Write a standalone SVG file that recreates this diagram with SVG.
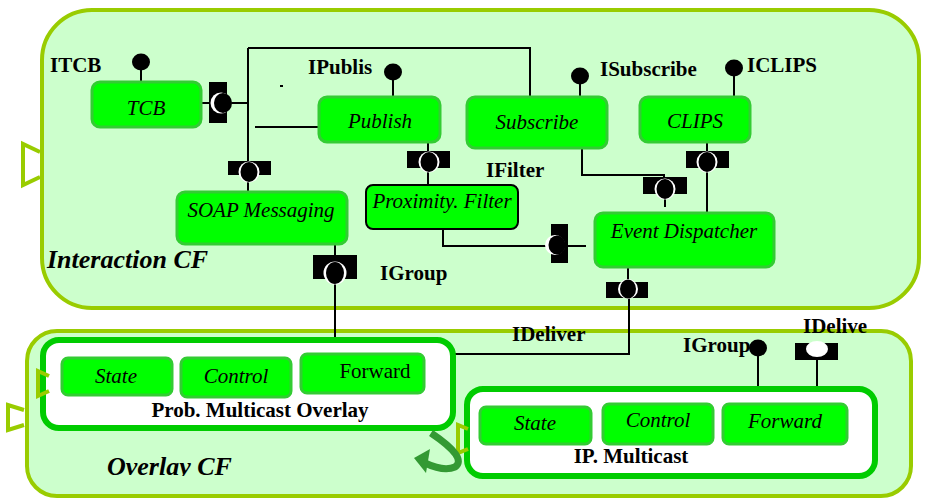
<svg xmlns="http://www.w3.org/2000/svg" width="926" height="499" viewBox="0 0 926 499">
  <style>
    .cf { fill: #ccffcc; stroke: #99cc00; stroke-width: 4; }
    .rcp { fill: none; stroke: #99cc00; stroke-width: 4; stroke-linejoin: miter; }
    .comp { fill: #00ff00; stroke: #33cc33; stroke-width: 3; }
    .host { fill: #ffffff; stroke: #00cc00; stroke-width: 6; }
    .wire { fill: none; stroke: #000000; stroke-width: 2; }
    .nlab { font-family: "Liberation Serif", "Times New Roman", serif; font-style: italic; font-size: 21px; fill: #000; text-anchor: middle; }
    .plain { font-style: normal; }
    .ilab { font-family: "Liberation Serif", "Times New Roman", serif; font-weight: bold; font-size: 21px; fill: #000; }
    .cflab { font-family: "Liberation Serif", "Times New Roman", serif; font-weight: bold; font-style: italic; font-size: 26px; fill: #000; }
    .ball { fill: #000; }
    .box { fill: #000; }
    .rim { fill: #ffffff; }
  </style>
  <defs>
    <clipPath id="overlayClip"><rect x="90" y="440" width="200" height="36"/></clipPath>
  </defs>

  <!-- Interaction component framework -->
  <g id="interaction-cf">
    <rect class="cf" x="42" y="10" width="877" height="298" rx="50" ry="50"/>
    <path class="rcp" d="M40,152 L23,144 L23,185 L40,177"/>
    <text class="cflab" x="47" y="268">Interaction CF</text>
  </g>

  <!-- Overlay component framework -->
  <g id="overlay-cf">
    <rect class="cf" x="27" y="331" width="884" height="165" rx="30" ry="30"/>
    <path class="rcp" d="M24,410 L8,405 L8,430 L24,425"/>
    <text class="cflab" x="107" y="475" clip-path="url(#overlayClip)">Overlay CF</text>
  </g>

  <!-- Connectors -->
  <g id="connectors">
    <!-- TCB receptacle bus -->
    <path class="wire" d="M201,103 H209"/>
    <path class="wire" d="M227,103 H248"/>
    <path class="wire" d="M248,48 V161"/>
    <path class="wire" d="M248,48 H530 V97"/>
    <path class="wire" d="M255,127 H320"/>
    <path class="wire" d="M248,180 V192"/>
    <path class="wire" d="M280,86 H283" stroke-width="1"/>
    <!-- SOAP to overlay -->
    <path class="wire" d="M335,244 V255"/>
    <path class="wire" d="M335,283 V339"/>
    <!-- Publish to filter -->
    <path class="wire" d="M428,142 V151"/>
    <path class="wire" d="M428,168 V186"/>
    <!-- Filter to dispatcher -->
    <path class="wire" d="M443,229 V246 H551"/>
    <path class="wire" d="M568,246 H586"/>
    <!-- Subscribe to dispatcher -->
    <path class="wire" d="M582,148 V175 H664 V177"/>
    <path class="wire" d="M665,198 V207"/>
    <!-- CLIPS to dispatcher -->
    <path class="wire" d="M707,142 V151"/>
    <path class="wire" d="M707,168 V213"/>
    <!-- Dispatcher to overlay -->
    <path class="wire" d="M628,267 V282"/>
    <path class="wire" d="M629,298 V354 H453"/>
    <!-- IP multicast interfaces -->
    <path class="wire" d="M758,350 V388"/>
    <path class="wire" d="M817,360 V391"/>
    <!-- Interface lollipops -->
    <path class="wire" d="M141,66 V82"/>
    <path class="wire" d="M393,76 V97"/>
    <path class="wire" d="M580,80 V98"/>
    <path class="wire" d="M734,72 V97"/>
  </g>

  <!-- Interface lollipops and receptacles -->
  <g id="interfaces">
    <ellipse class="ball" cx="141" cy="62" rx="9" ry="8.5"/>
    <ellipse class="ball" cx="393" cy="72" rx="9" ry="8.5"/>
    <ellipse class="ball" cx="580" cy="76" rx="9" ry="8.5"/>
    <ellipse class="ball" cx="734" cy="68" rx="9" ry="8.5"/>
    <ellipse class="ball" cx="758" cy="348" rx="9" ry="8.5"/>

    <!-- TCB receptacle -->
    <rect class="box" x="209" y="82" width="18" height="41"/>
    <circle class="rim" cx="221" cy="103" r="10.5"/>
    <ellipse class="ball" cx="223" cy="103" rx="9" ry="10"/>
    <!-- SOAP receptacle -->
    <rect class="box" x="228" y="161" width="43" height="14"/>
    <circle class="rim" cx="249" cy="172" r="10.5"/>
    <ellipse class="ball" cx="249" cy="172" rx="8.5" ry="10"/>
    <!-- Filter receptacle on Publish -->
    <rect class="box" x="407" y="151" width="43" height="17"/>
    <circle class="rim" cx="429" cy="162" r="10.5"/>
    <ellipse class="ball" cx="429" cy="162" rx="8.5" ry="10"/>
    <!-- CLIPS receptacle -->
    <rect class="box" x="686" y="151" width="43" height="17"/>
    <circle class="rim" cx="707" cy="162" r="10.5"/>
    <ellipse class="ball" cx="707" cy="162" rx="8.5" ry="10"/>
    <!-- Subscribe receptacle -->
    <rect class="box" x="643" y="177" width="44" height="17"/>
    <circle class="rim" cx="665" cy="189" r="10.5"/>
    <ellipse class="ball" cx="665" cy="189" rx="8.5" ry="10"/>
    <!-- IGroup receptacle -->
    <rect class="box" x="313" y="255" width="44" height="24"/>
    <circle class="rim" cx="335" cy="273" r="11.5"/>
    <ellipse class="ball" cx="335" cy="273" rx="9" ry="11"/>
    <!-- Dispatcher receptacle -->
    <rect class="box" x="606" y="282" width="42" height="16"/>
    <circle class="rim" cx="628" cy="289" r="10"/>
    <ellipse class="ball" cx="628" cy="289" rx="8" ry="9.5"/>
    <!-- Filter input receptacle -->
    <rect class="box" x="551" y="224" width="17" height="39"/>
    <circle class="rim" cx="555" cy="245" r="10"/>
    <ellipse class="ball" cx="557" cy="245" rx="8.5" ry="9.5"/>
    <!-- IDelive receptacle -->
    <rect class="box" x="795" y="343" width="43" height="17"/>
    <ellipse class="rim" cx="817" cy="349" rx="11" ry="8"/>
  </g>

  <!-- Interface labels -->
  <g id="labels">
    <text class="ilab" x="50" y="72">ITCB</text>
    <text class="ilab" x="308" y="74">IPublis</text>
    <text class="ilab" x="600" y="76">ISubscribe</text>
    <text class="ilab" x="747" y="72">ICLIPS</text>
    <text class="ilab" x="486" y="177">IFilter</text>
    <text class="ilab" x="380" y="280">IGroup</text>
    <text class="ilab" x="512" y="341">IDeliver</text>
    <text class="ilab" x="683" y="352">IGroup</text>
    <text class="ilab" x="803" y="333">IDelive</text>
  </g>

  <!-- Interaction components -->
  <g id="tcb">
    <rect class="comp" x="92" y="82" width="109" height="45" rx="8"/>
    <text class="nlab" x="146" y="115" font-size="20">TCB</text>
  </g>
  <g id="publish">
    <rect class="comp" x="319" y="97" width="121" height="45" rx="8"/>
    <text class="nlab" x="380" y="128">Publish</text>
  </g>
  <g id="subscribe">
    <rect class="comp" x="467" y="97" width="140" height="51" rx="8"/>
    <text class="nlab" x="537" y="129">Subscribe</text>
  </g>
  <g id="clips">
    <rect class="comp" x="640" y="97" width="110" height="45" rx="8"/>
    <text class="nlab" x="695" y="128">CLIPS</text>
  </g>
  <g id="soap-messaging">
    <rect class="comp" x="177" y="192" width="170" height="52" rx="8"/>
    <text class="nlab" x="261" y="217">SOAP Messaging</text>
  </g>
  <g id="proximity-filter">
    <rect x="366" y="185" width="152" height="44" rx="7" fill="#00ff00" stroke="#000" stroke-width="2"/>
    <text class="nlab" x="442" y="208">Proximity. Filter</text>
  </g>
  <g id="event-dispatcher">
    <rect class="comp" x="595" y="213" width="179" height="54" rx="8"/>
    <text class="nlab" x="684" y="238">Event Dispatcher</text>
  </g>

  <!-- Probabilistic multicast overlay -->
  <g id="prob-multicast">
    <rect class="host" x="43" y="340" width="410" height="88" rx="16"/>
    <path class="rcp" d="M49,376 L38,371 L38,396 L49,391" stroke-width="3.5"/>
    <text class="ilab" x="260" y="417" text-anchor="middle">Prob. Multicast Overlay</text>
  </g>
  <g id="pm-state">
    <rect class="comp" x="62" y="358" width="110" height="37" rx="6"/>
    <text class="nlab" x="116" y="383">State</text>
  </g>
  <g id="pm-control">
    <rect class="comp" x="181" y="358" width="110" height="39" rx="6"/>
    <text class="nlab" x="236" y="383">Control</text>
  </g>
  <g id="pm-forward">
    <rect class="comp" x="301" y="354" width="123" height="39" rx="6"/>
    <text class="nlab plain" x="375" y="378">Forward</text>
  </g>

  <!-- IP multicast -->
  <g id="ip-multicast">
    <rect class="host" x="467" y="389" width="408" height="87" rx="16"/>
    <path class="rcp" d="M468,429 L458,425 L458,453 L468,449" stroke-width="3.5"/>
    <text class="ilab" x="631" y="463" text-anchor="middle">IP. Multicast</text>
  </g>
  <g id="ip-state">
    <rect class="comp" x="480" y="407" width="111" height="37" rx="6"/>
    <text class="nlab" x="535" y="430">State</text>
  </g>
  <g id="ip-control">
    <rect class="comp" x="603" y="404" width="110" height="40" rx="6"/>
    <text class="nlab" x="658" y="427">Control</text>
  </g>
  <g id="ip-forward">
    <rect class="comp" x="723" y="404" width="124" height="40" rx="6"/>
    <text class="nlab" x="785" y="428">Forward</text>
  </g>

  <!-- Binding arrow between overlays -->
  <g id="binding-arrow">
    <path d="M431,433 Q468,458 455,467 Q444,472 425,463" fill="none" stroke="#339933" stroke-width="7"/>
    <polygon points="414,458 430,449 426,473" fill="#339933"/>
  </g>
</svg>
